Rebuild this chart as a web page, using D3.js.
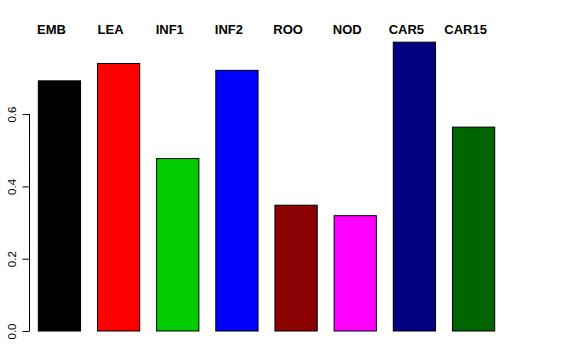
<!DOCTYPE html>
<html>
<head>
<meta charset="utf-8">
<script src="https://cdn.jsdelivr.net/npm/d3@7"></script>
<style>
  body { margin: 0; background: #fff; }
  text { font-family: "Liberation Sans", Arial, Helvetica, sans-serif; }
</style>
</head>
<body>
<div id="chart"></div>
<script>
// bar data
var categories = ["EMB", "LEA", "INF1", "INF2", "ROO", "NOD", "CAR5", "CAR15"];
var values = [0.692, 0.740, 0.477, 0.721, 0.348, 0.319, 0.799, 0.564];
var barColors = ["#000000", "#FF0000", "#00CD00", "#0000FF", "#8B0000", "#FF00FF", "#000080", "#006400"];
var yTicks = [0, 0.2, 0.4, 0.6];

var width = 576,
    height = 360;

var svg = d3.select("#chart").append("svg")
    .attr("width", width)
    .attr("height", height);

// R barplot, space = 0.4
var x = d3.scaleBand()
    .domain(categories)
    .range([38.3, 494.7])
    .paddingInner(0.4 / 1.4)
    .paddingOuter(0);

var y = d3.scaleLinear()
    .domain([0, 0.6])
    .range([331, 114.1]);

var data = categories.map(function (c, i) {
    return { name: c, value: values[i], color: barColors[i] };
});

// bars
svg.append("g").selectAll("rect")
    .data(data)
    .enter()
    .append("rect")
    .attr("x", function (d) { return x(d.name); })
    .attr("y", function (d) { return y(d.value); })
    .attr("width", x.bandwidth())
    .attr("height", function (d) { return y(0) - y(d.value); })
    .style("fill", function (d) { return d.color; })
    .style("stroke", "#000")
    .style("stroke-width", 1);

// labels above the bars
svg.append("g").selectAll("text")
    .data(data)
    .enter()
    .append("text")
    .attr("x", function (d) { return x(d.name) + x.bandwidth() / 2 - 8; })
    .attr("y", 33.5)
    .attr("text-anchor", "middle")
    .style("font-size", "13px")
    .style("font-weight", "bold")
    .text(function (d) { return d.name; });

// y axis, R style
var axis = svg.append("g")
    .attr("transform", "translate(29.5,0)")
    .call(d3.axisLeft(y)
        .tickValues(yTicks)
        .tickSize(7)
        .tickPadding(0)
        .tickFormat(d3.format(".1f")));

axis.select(".domain")
    .attr("d", "M0," + y(0) + "V" + y(0.6))
    .style("stroke", "#000");
axis.selectAll(".tick line").style("stroke", "#000");
axis.selectAll(".tick text")
    .attr("x", null)
    .attr("dy", null)
    .attr("transform", "translate(-14,0) rotate(-90)")
    .attr("text-anchor", "middle")
    .style("font-family", "'Liberation Sans', Arial, sans-serif")
    .style("font-size", "11.5px")
    .style("fill", "#000");
</script>
</body>
</html>
